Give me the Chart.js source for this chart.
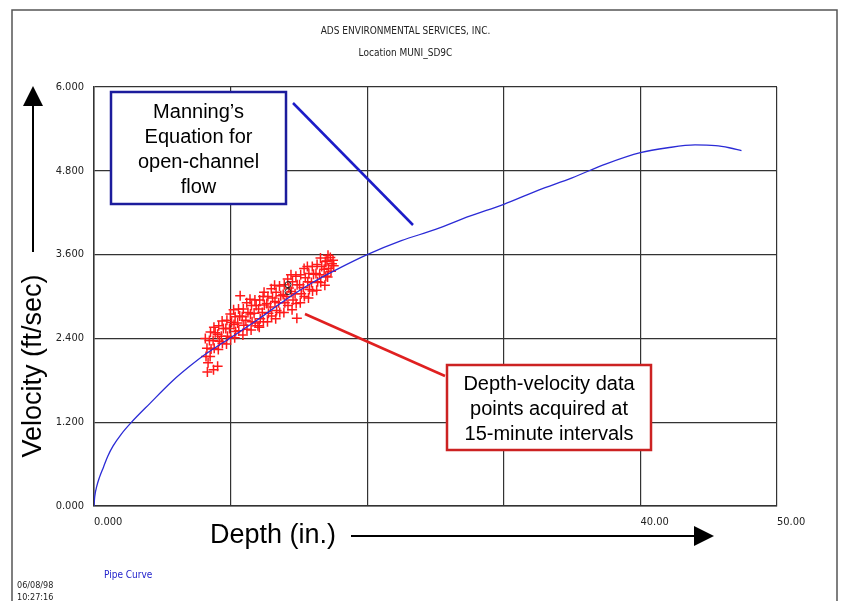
<!DOCTYPE html>
<html>
<head>
<meta charset="utf-8">
<script src="https://cdn.jsdelivr.net/npm/chart.js@4.4.1/dist/chart.umd.min.js"></script>
<style>
  html, body { margin: 0; padding: 0; background: #fff; }
  #wrap { width: 843px; height: 601px; }
</style>
</head>
<body>
<div id="wrap"><canvas id="pipeChart" width="843" height="601"></canvas></div>
<script>
// Pipe curve (Manning's equation)
const pipeDepth = [0, 0.05, 0.2, 0.4, 0.7, 1.0, 1.4, 2.0, 2.7, 4.1, 5.8, 7.0, 8.2, 10, 12, 14, 16, 18, 20, 22.5, 25, 27.5, 30, 32.5, 35, 37.5, 40, 42, 44, 45.5, 46.5, 47.4];
const pipeVelocity = [0, 0.13, 0.28, 0.41, 0.56, 0.71, 0.86, 1.03, 1.19, 1.47, 1.8, 2.0, 2.18, 2.41, 2.67, 2.95, 3.2, 3.41, 3.6, 3.8, 3.96, 4.15, 4.32, 4.52, 4.7, 4.9, 5.06, 5.13, 5.17, 5.16, 5.13, 5.09];

// depth-velocity readings [depth in., velocity ft/s]
const readings = [
  [8.3, 1.92], [8.75, 1.95], [9.05, 2.0], [8.35, 2.05],
  [8.2, 2.14], [8.27, 2.26], [8.15, 2.4],
  [8.5, 2.14], [8.57, 2.25], [8.45, 2.37], [8.53, 2.49],
  [8.8, 2.26], [8.72, 2.37], [8.87, 2.48], [8.78, 2.56],
  [9.1, 2.24], [9.17, 2.36], [9.05, 2.46], [9.13, 2.58],
  [9.4, 2.33], [9.32, 2.43], [9.47, 2.54], [9.38, 2.65],
  [9.7, 2.32], [9.77, 2.43], [9.65, 2.54], [9.73, 2.66],
  [10.0, 2.41], [9.92, 2.54], [10.07, 2.63], [9.98, 2.75],
  [10.3, 2.41], [10.37, 2.5], [10.25, 2.6], [10.33, 2.71], [10.22, 2.81],
  [10.6, 2.51], [10.52, 2.62], [10.67, 2.72], [10.58, 2.82],
  [10.7, 3.01],
  [10.9, 2.45], [10.97, 2.59], [10.85, 2.71], [10.93, 2.82],
  [11.2, 2.53], [11.12, 2.66], [11.27, 2.77], [11.18, 2.91],
  [11.5, 2.52], [11.57, 2.64], [11.45, 2.75], [11.53, 2.87], [11.42, 2.96],
  [11.8, 2.62], [11.72, 2.76], [11.87, 2.87], [11.78, 2.95],
  [12.0, 2.58],
  [12.1, 2.56], [12.17, 2.68], [12.05, 2.82], [12.13, 2.95],
  [12.4, 2.64], [12.32, 2.77], [12.47, 2.88], [12.38, 3.0], [12.45, 3.06],
  [12.7, 2.64], [12.77, 2.76], [12.65, 2.9], [12.73, 3.0],
  [13.0, 2.72], [12.92, 2.85], [13.07, 2.98], [12.98, 3.11],
  [13.3, 2.68], [13.37, 2.8], [13.25, 2.93], [13.33, 3.06], [13.22, 3.16],
  [13.6, 2.77], [13.52, 2.91], [13.67, 3.01], [13.58, 3.15],
  [13.9, 2.77], [13.97, 2.91], [13.85, 3.03], [13.93, 3.17],
  [14.2, 2.87], [14.12, 3.0], [14.27, 3.12], [14.18, 3.25],
  [14.5, 2.81], [14.57, 2.95], [14.45, 3.07], [14.53, 3.21], [14.42, 3.31],
  [14.85, 2.69],
  [14.8, 2.9], [14.72, 3.04], [14.87, 3.17], [14.78, 3.29],
  [15.1, 2.91], [15.17, 3.04], [15.05, 3.17], [15.13, 3.31],
  [15.4, 3.0], [15.32, 3.13], [15.47, 3.27], [15.38, 3.4],
  [15.7, 2.98], [15.77, 3.1], [15.65, 3.21], [15.73, 3.33], [15.62, 3.43],
  [16.0, 3.08], [15.92, 3.2], [16.07, 3.32], [15.98, 3.43],
  [16.3, 3.09], [16.37, 3.21], [16.25, 3.33], [16.33, 3.46],
  [16.6, 3.2], [16.52, 3.31], [16.67, 3.43], [16.58, 3.55],
  [16.9, 3.16], [16.97, 3.29], [16.85, 3.39], [16.93, 3.5],
  [17.1, 3.28], [17.17, 3.4], [17.05, 3.51], [17.13, 3.59],
  [17.35, 3.36], [17.42, 3.47], [17.3, 3.56],
  [17.55, 3.44], [17.5, 3.52]
];

const markedPoints = [[14.2, 3.17], [14.2, 3.07]];

const xTickLabels = { 0: '0.000', 40: '40.00', 50: '50.00' };
const titleLines = ['ADS ENVIRONMENTAL SERVICES, INC.', 'Location MUNI_SD9C'];

const narrow = "'DejaVu Sans Condensed', 'Liberation Sans Narrow', sans-serif";
const arial = "'Liberation Sans', Arial, sans-serif";

const decor = {
  id: 'decor',
  beforeDraw(chart) {
    const ctx = chart.ctx;
    ctx.save();
    ctx.fillStyle = '#fff';
    ctx.fillRect(0, 0, chart.width, chart.height);
    ctx.strokeStyle = '#555';
    ctx.lineWidth = 1.5;
    ctx.strokeRect(12, 10, 825, 620);
    ctx.restore();
  },
  afterDraw(chart) {
    const ctx = chart.ctx;
    ctx.save();

    // axis titles with arrows
    ctx.fillStyle = '#000';
    ctx.strokeStyle = '#000';
    ctx.font = `27px ${arial}`;
    ctx.textAlign = 'center';
    ctx.textBaseline = 'middle';
    ctx.save();
    ctx.translate(34, 366);
    ctx.rotate(-Math.PI / 2);
    ctx.fillText('Velocity (ft/sec)', 0, 0);
    ctx.restore();
    ctx.lineWidth = 2;
    ctx.beginPath();
    ctx.moveTo(33, 252);
    ctx.lineTo(33, 100);
    ctx.stroke();
    ctx.beginPath();
    ctx.moveTo(33, 86);
    ctx.lineTo(43, 106);
    ctx.lineTo(23, 106);
    ctx.closePath();
    ctx.fill();

    ctx.textAlign = 'left';
    ctx.fillText('Depth (in.)', 210, 536);
    ctx.beginPath();
    ctx.moveTo(351, 536);
    ctx.lineTo(700, 536);
    ctx.stroke();
    ctx.beginPath();
    ctx.moveTo(714, 536);
    ctx.lineTo(694, 526);
    ctx.lineTo(694, 546);
    ctx.closePath();
    ctx.fill();

    // leader lines
    ctx.lineWidth = 2.5;
    ctx.strokeStyle = '#1c1cc8';
    ctx.beginPath();
    ctx.moveTo(293, 103);
    ctx.lineTo(413, 225);
    ctx.stroke();
    ctx.strokeStyle = '#e02020';
    ctx.beginPath();
    ctx.moveTo(305, 314);
    ctx.lineTo(445, 376);
    ctx.stroke();

    // callout boxes
    const box = (x, y, w, h, color, lines, y0) => {
      ctx.fillStyle = '#fff';
      ctx.fillRect(x, y, w, h);
      ctx.strokeStyle = color;
      ctx.lineWidth = 2.5;
      ctx.strokeRect(x, y, w, h);
      ctx.fillStyle = '#000';
      ctx.font = `20px ${arial}`;
      ctx.textAlign = 'center';
      ctx.textBaseline = 'middle';
      lines.forEach((t, i) => ctx.fillText(t, x + w / 2, y0 + i * 25));
    };
    box(111, 92, 175, 112, '#1c1c9c', ['Manning\u2019s', 'Equation for', 'open-channel', 'flow'], 112);
    box(447, 365, 204, 85, '#cc2222', ['Depth-velocity data', 'points acquired at', '15-minute intervals'], 384);

    // footer texts
    ctx.textAlign = 'left';
    ctx.font = `10px ${narrow}`;
    ctx.fillStyle = '#2222cc';
    ctx.fillText('Pipe Curve', 104, 575);
    ctx.font = `9px ${narrow}`;
    ctx.fillStyle = '#222';
    ctx.fillText('06/08/98', 17, 586);
    ctx.fillText('10:27:16', 17, 598);
    ctx.restore();
  }
};

new Chart(document.getElementById('pipeChart'), {
  type: 'scatter',
  data: {
    datasets: [
      {
        label: 'Pipe Curve',
        data: pipeDepth.map((d, i) => ({ x: d, y: pipeVelocity[i] })),
        showLine: true,
        borderColor: '#2b2bd6',
        borderWidth: 1.3,
        pointRadius: 0,
        cubicInterpolationMode: 'monotone',
      },
      {
        label: 'Marked',
        data: markedPoints.map(([x, y]) => ({ x, y })),
        pointStyle: 'circle',
        pointRadius: 3,
        borderColor: '#222',
        borderWidth: 1,
        backgroundColor: 'rgba(0,0,0,0)',
      },
      {
        label: 'Readings',
        data: readings.map(([x, y]) => ({ x, y })),
        pointStyle: 'cross',
        pointRadius: 5,
        borderColor: '#ff1a1a',
        borderWidth: 1.5,
      },
    ],
  },
  options: {
    responsive: false,
    animation: false,
    events: [],
    layout: { padding: { left: 34, right: 66, top: 0, bottom: 65 } },
    plugins: {
      legend: { display: false },
      tooltip: { enabled: false },
      title: {
        display: true,
        text: titleLines[0],
        color: '#222',
        font: { family: narrow, size: 10, weight: 'normal' },
        padding: { top: 25, bottom: 0 },
      },
      subtitle: {
        display: true,
        text: titleLines[1],
        color: '#222',
        font: { family: narrow, size: 10 },
        padding: { top: 10, bottom: 28 },
      },
    },
    scales: {
      x: {
        type: 'linear',
        min: 0,
        max: 50,
        afterFit: (scale) => { scale.height = 30; },
        ticks: {
          stepSize: 10,
          align: 'start',
          padding: 10,
          color: '#222',
          font: { family: narrow, size: 11 },
          maxRotation: 0,
          callback: (v) => xTickLabels[v] || '',
        },
        grid: { color: '#333', lineWidth: 1.2, drawTicks: false },
        border: { color: '#333', width: 1.5 },
      },
      y: {
        type: 'linear',
        min: 0,
        max: 6,
        afterFit: (scale) => { scale.width = 60; },
        ticks: {
          stepSize: 1.2,
          padding: 10,
          color: '#222',
          font: { family: narrow, size: 11 },
          callback: (v) => Number(v).toFixed(3),
        },
        grid: { color: '#333', lineWidth: 1.2, drawTicks: false },
        border: { color: '#333', width: 1.5 },
      },
    },
  },
  plugins: [decor],
});
</script>
</body>
</html>
